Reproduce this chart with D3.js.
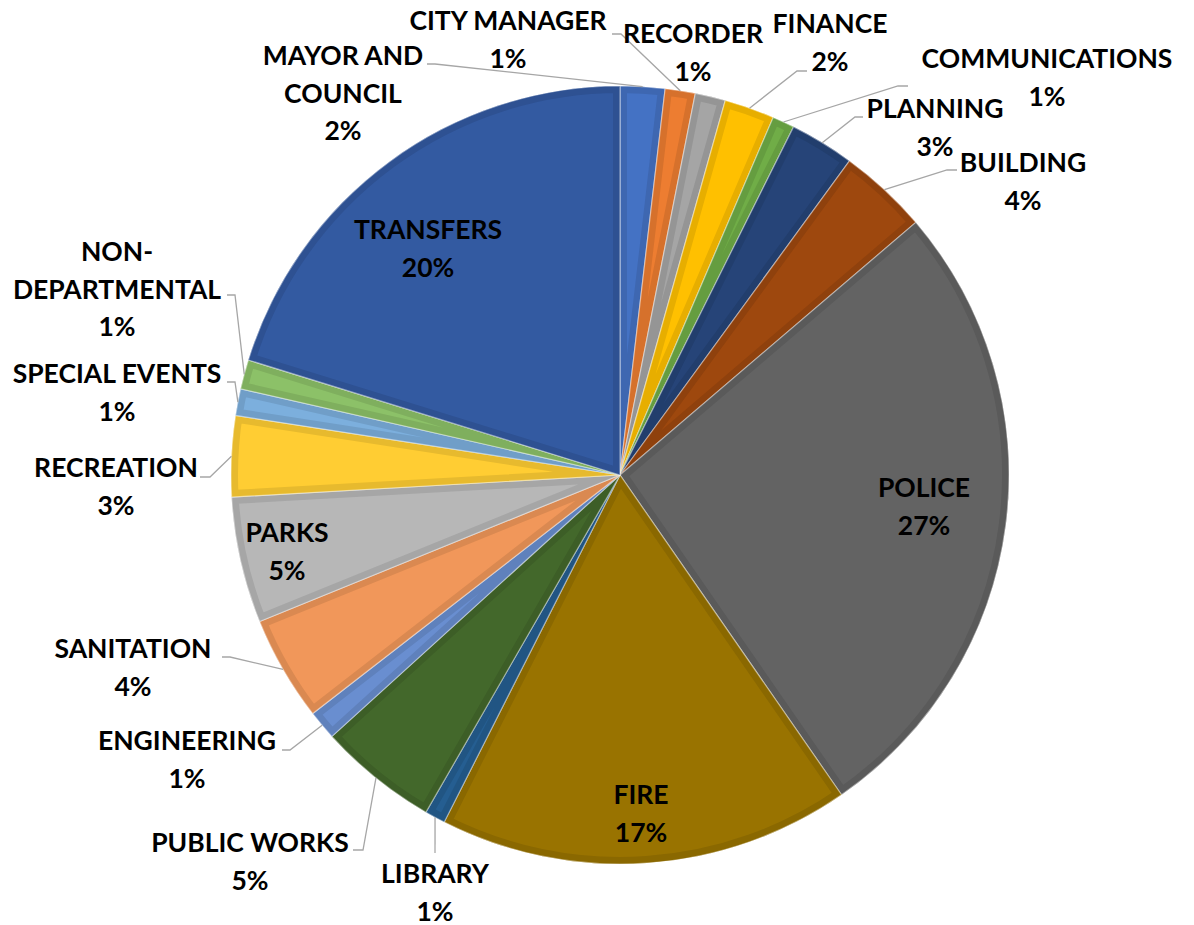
<!DOCTYPE html>
<html>
<head>
<meta charset="utf-8">
<script src="https://cdn.jsdelivr.net/npm/d3@7"></script>
<style>
  html, body { margin: 0; padding: 0; background: #ffffff; }
  svg { display: block; }
  text { font-family: Lato, "Open Sans", sans-serif; font-weight: 700; fill: #000; }
</style>
</head>
<body>
<svg id="chart" width="1194" height="925"></svg>
<script>
// Department names (line breaks as drawn), share of budget (%), slice colours
const departments = [
  "MAYOR AND\nCOUNCIL", "CITY MANAGER", "RECORDER", "FINANCE", "COMMUNICATIONS",
  "PLANNING", "BUILDING", "POLICE", "FIRE", "LIBRARY", "PUBLIC WORKS",
  "ENGINEERING", "SANITATION", "PARKS", "RECREATION", "SPECIAL EVENTS",
  "NON-\nDEPARTMENTAL", "TRANSFERS"
];
const shares = [
  1.85, 1.25, 1.26, 2.08, 0.92,
  2.68, 3.71, 26.6, 17.1, 0.85, 4.96,
  1.22, 4.36, 5.24, 3.35, 1.11,
  1.22, 20.22
];
const sliceColors = [
  "#4472C4", "#ED7D31", "#A5A5A5", "#FFC000", "#70AD47",
  "#264478", "#9E480E", "#636363", "#997300", "#255E91", "#43682B",
  "#698ED0", "#F1975A", "#B7B7B7", "#FFCD33", "#7CAFDD",
  "#8CC168", "#335AA1"
];

// Label placement: text centre x, first baseline y; leader = [start x, elbow x, y]
const labelLayout = {
  "MAYOR AND\nCOUNCIL":   { x: 343,  y: 65,  leader: [427, 435, 64] },
  "CITY MANAGER":         { x: 508,  y: 30,  leader: [612, 621, 34] },
  "RECORDER":             { x: 693,  y: 43 },
  "FINANCE":              { x: 830,  y: 33,  leader: [807, 797, 71] },
  "COMMUNICATIONS":       { x: 1047, y: 68,  leader: [908, 898, 86] },
  "PLANNING":             { x: 935,  y: 118, leader: [863, 855, 117] },
  "BUILDING":             { x: 1023, y: 172, leader: [957, 947, 170] },
  "POLICE":               { x: 924,  y: 497 },
  "FIRE":                 { x: 641,  y: 804 },
  "LIBRARY":              { x: 435,  y: 883, leader: [435, 435, 853] },
  "PUBLIC WORKS":         { x: 250,  y: 852, leader: [353, 363, 850] },
  "ENGINEERING":          { x: 187,  y: 750, leader: [282, 290, 750] },
  "SANITATION":           { x: 133,  y: 658, leader: [222, 230, 657] },
  "PARKS":                { x: 287,  y: 542 },
  "RECREATION":           { x: 116,  y: 477, leader: [200, 210, 477] },
  "SPECIAL EVENTS":       { x: 117,  y: 383, leader: [227, 235, 382] },
  "NON-\nDEPARTMENTAL":   { x: 117,  y: 261, leader: [227, 235, 295] },
  "TRANSFERS":            { x: 428,  y: 239 }
};

const cx = 620, cy = 475, R = 389;
const fontSize = 26.5, lineGap = 37.5;

const svg = d3.select("#chart");
const g = svg.append("g").attr("transform", `translate(${cx},${cy})`);

const pie = d3.pie().sort(null).value(d => d.value);
const arcs = pie(departments.map((name, i) => ({ name, value: shares[i], color: sliceColors[i] })));
const total = d3.sum(shares);

const arc = d3.arc().innerRadius(0).outerRadius(R);

// Slices: base fill, a darker inset rim (clipped stroke), then a thin light separator
const defs = svg.append("defs");
arcs.forEach((d, i) => {
  defs.append("clipPath").attr("id", "slice-clip-" + i)
    .append("path").attr("d", arc(d));
});

const slices = g.selectAll("g.slice").data(arcs).join("g").attr("class", "slice");
slices.append("path")
  .attr("d", arc)
  .attr("fill", d => d.data.color);
slices.append("path")
  .attr("d", arc)
  .attr("fill", "none")
  .attr("stroke", d => d3.color(d.data.color).darker(0.28))
  .attr("stroke-width", 14)
  .attr("stroke-linejoin", "round")
  .attr("clip-path", (d, i) => `url(#slice-clip-${i})`);
slices.append("path")
  .attr("d", arc)
  .attr("fill", "none")
  .attr("stroke", "#ffffff")
  .attr("stroke-opacity", 0.45)
  .attr("stroke-width", 1.2);

// Leader lines run from the label to the slice's outer edge at its mid-angle
const edgePoint = d => {
  const a = (d.startAngle + d.endAngle) / 2;
  return [cx + R * Math.sin(a), cy - R * Math.cos(a)];
};
const line = d3.line();
const labelled = arcs.filter(d => labelLayout[d.data.name] && labelLayout[d.data.name].leader);
svg.append("g").selectAll("path.leader").data(labelled).join("path")
  .attr("class", "leader")
  .attr("fill", "none")
  .attr("stroke", "#a6a6a6")
  .attr("stroke-width", 1.3)
  .attr("d", d => {
    const [sx, ex, ly] = labelLayout[d.data.name].leader;
    return line([[sx, ly], [ex, ly], edgePoint(d)]);
  });

// Category name and rounded percentage
const labels = svg.append("g").selectAll("text").data(arcs).join("text")
  .attr("text-anchor", "middle")
  .attr("font-size", fontSize)
  .attr("x", d => labelLayout[d.data.name].x)
  .attr("y", d => labelLayout[d.data.name].y);
labels.each(function(d) {
  const pos = labelLayout[d.data.name];
  const lines = d.data.name.split("\n");
  lines.push(Math.round(d.data.value / total * 100) + "%");
  d3.select(this).selectAll("tspan").data(lines).join("tspan")
    .attr("x", pos.x)
    .attr("y", (t, k) => pos.y + k * lineGap)
    .text(t => t);
});
</script>
</body>
</html>
